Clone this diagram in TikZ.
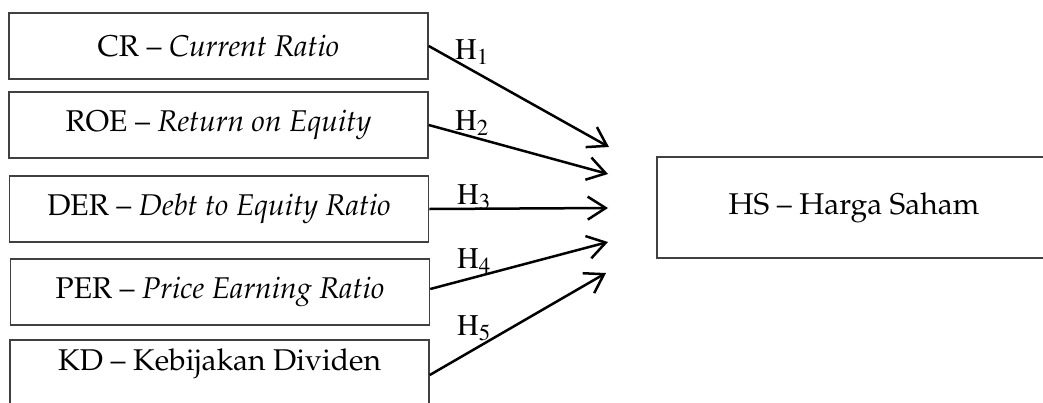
\documentclass[tikz,border=0pt]{standalone}
\usepackage[T1]{fontenc}
\usepackage{mathpazo}
\usetikzlibrary{arrows.meta,calc}
\begin{document}
\begin{tikzpicture}[x=1pt,y=-1pt,
 box/.style={draw=black!75, line width=1.5pt, minimum width=419pt, minimum height=66pt, inner sep=0pt, font=\fontsize{30}{36}\selectfont},
 txt/.style={inner sep=0pt, font=\fontsize{30}{36}\selectfont},
 lbl/.style={font=\fontfamily{ptm}\fontsize{30}{36}\selectfont, inner sep=0pt, anchor=base west},
 arr/.style={line width=2.5pt, -{Straight Barb[length=18pt,width=23pt,line width=2.5pt]}}]
\useasboundingbox (0,0) rectangle (1043,402);
\node[box] (cr) at (218.5,46) {CR -- \textit{Current Ratio}};
\node[box] (roe) at (218.5,125) {ROE -- \textit{Return on Equity}};
\node[box] (der) at (219,209) {DER -- \textit{Debt to Equity Ratio}};
\node[box] (per) at (220,292) {PER -- \textit{Price Earning Ratio}};
\node[box, minimum height=80pt, anchor=north] (kd) at (219.5,339) {};
\node[txt] (kdt) at (219.5,364) {KD -- Kebijakan Dividen};
\node[box, minimum width=394pt, minimum height=101pt] (hs) at (854,207.5) {HS -- Harga Saham};
\coordinate (s5) at ($(kd.north east)+(0,36)$);
\coordinate (t1) at (609,147);
\coordinate (t2) at (608,174);
\coordinate (t3) at (608,208);
\coordinate (t4) at (608,242);
\coordinate (t5) at (606,273);
\draw[arr] (cr.east) -- (t1);
\draw[arr] (roe.east) -- (t2);
\draw[arr] (der.east) -- (t3);
\draw[arr] ($(per.east)+(0,-3)$) -- (t4);
\draw[arr] (s5) -- (t5);
\node[lbl] (h1) at (455,59) {H\textsubscript{1}};
\node[lbl] (h2) at (455,130) {H\textsubscript{2}};
\node[lbl] (h3) at (457,204) {H\textsubscript{3}};
\node[lbl] (h4) at (457,268) {H\textsubscript{4}};
\node[lbl] (h5) at (457,335) {H\textsubscript{5}};
\end{tikzpicture}
\end{document}
